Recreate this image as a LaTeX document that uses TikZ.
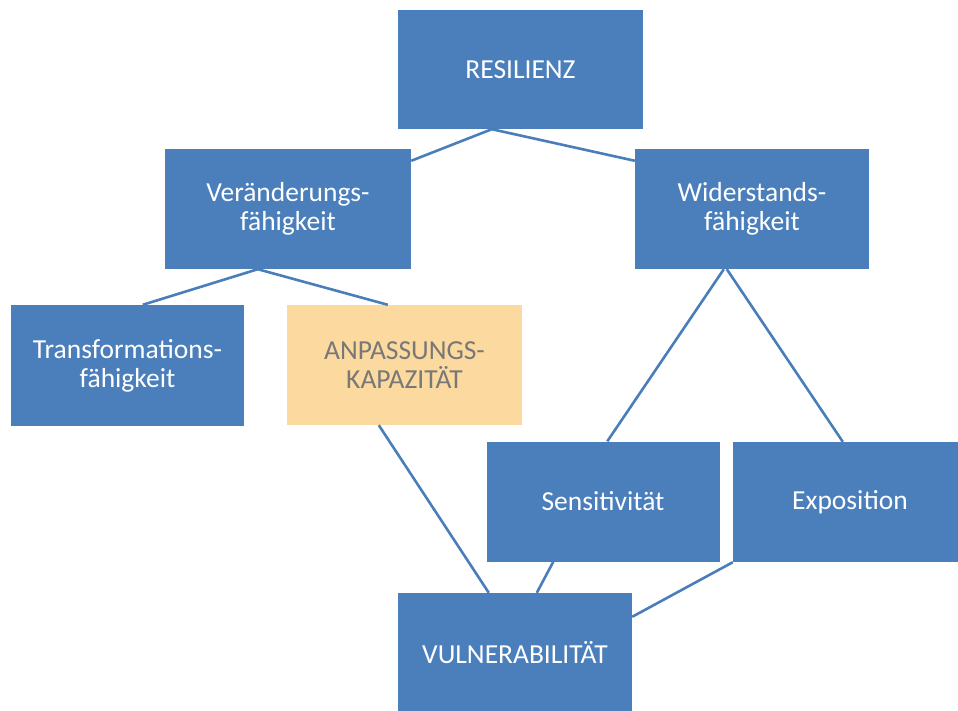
\documentclass[tikz,border=0pt]{standalone}
\usepackage{fontspec}
\setmainfont{Carlito}
\usetikzlibrary{calc}
\definecolor{boxblue}{HTML}{4A7FBC}
\definecolor{linkblue}{HTML}{4A7EBB}
\definecolor{peach}{HTML}{FCD99E}
\definecolor{graytext}{HTML}{787878}
\begin{document}
\begin{tikzpicture}[x=1pt,y=-1pt,
  box/.style={fill=boxblue, draw=none, text=white, inner sep=0pt, align=center,
    font=\fontsize{27.5}{29}\selectfont},
  peachbox/.style={box, fill=peach, text=graytext},
  link/.style={draw=linkblue, line width=2.6pt}]
\useasboundingbox (0,0) rectangle (958,711);
\clip (0,0) rectangle (958,711);
\node[box, minimum width=245pt, minimum height=119pt] (res) at (520.5,69.5) {RESILIENZ};
\node[box, minimum width=246pt, minimum height=120pt] (ver) at (288,209) {Veränderungs-\\fähigkeit};
\node[box, minimum width=234pt, minimum height=120pt] (wid) at (752,209) {Widerstands-\\fähigkeit};
\node[box, minimum width=233pt, minimum height=121pt] (tra) at (127.5,365.5) {Transformations-\\fähigkeit};
\node[peachbox, minimum width=235pt, minimum height=120pt] (anp) at (404.5,365) {ANPASSUNGS-\\KAPAZITÄT};
\node[box, minimum width=233pt, minimum height=120pt] (sen) at (603,501.5) {Sensitivität};
\node[box, minimum width=234pt, minimum height=120pt] (exp) at (850,502) {Exposition};
\node[box, minimum width=234pt, minimum height=120pt] (vul) at (515,653) {VULNERABILITÄT};
% connectors
\draw[link] ($(res.south west)+(94,0)$) -- ($(ver.north east)+(0,12)$);
\draw[link] ($(res.south west)+(94,0)$) -- ($(wid.north west)+(0,12)$);
\draw[link] ($(ver.south west)+(93,0)$) -- ($(tra.north west)+(132,0)$);
\draw[link] ($(ver.south west)+(93,0)$) -- ($(anp.north west)+(101,0)$);
\draw[link] ($(wid.south west)+(89,0)$) -- ($(sen.north west)+(121,0)$);
\draw[link] ($(wid.south west)+(92,0)$) -- ($(exp.north west)+(110,0)$);
\draw[link] ($(anp.south west)+(92,0)$) -- ($(vul.north west)+(91,0)$);
\draw[link] ($(sen.south west)+(67,0)$) -- ($(vul.north west)+(139,0)$);
\draw[link] (exp.south west) -- ($(vul.north east)+(0,24)$);
\end{tikzpicture}
\end{document}
